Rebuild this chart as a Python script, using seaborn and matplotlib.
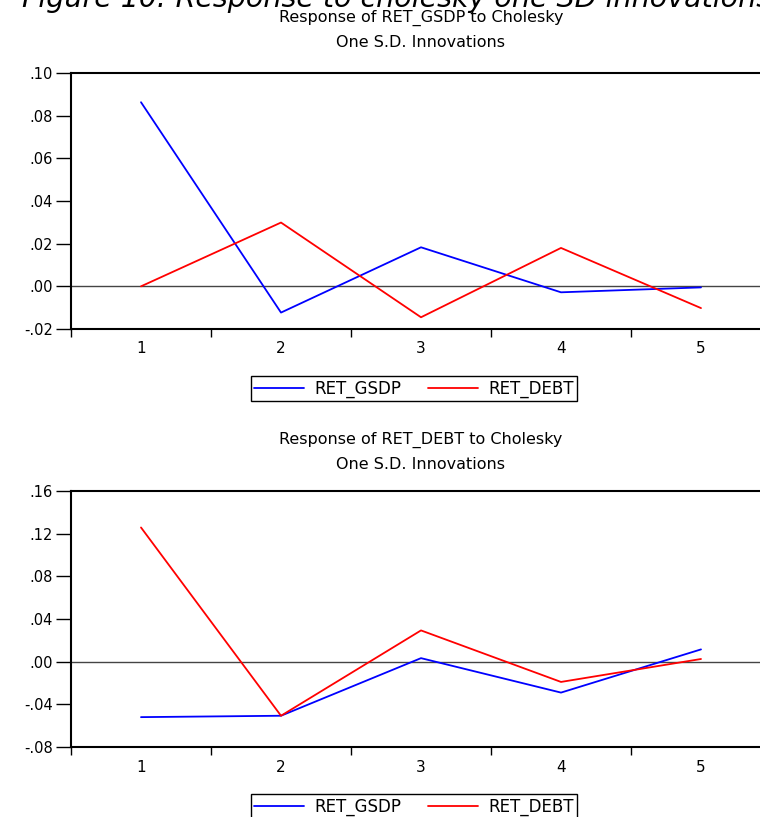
import pandas as pd
import matplotlib
matplotlib.use("Agg")
import matplotlib.pyplot as plt
import seaborn as sns
from matplotlib.ticker import FuncFormatter, FixedLocator

# impulse response values (periods 1..5)
periods = [1, 2, 3, 4, 5]
gsdp_resp_gsdp = [0.0863, -0.0123, 0.0183, -0.0028, -0.0005]
gsdp_resp_debt = [0.0000, 0.0299, -0.0145, 0.0180, -0.0102]
debt_resp_gsdp = [-0.0520, -0.0507, 0.0033, -0.0290, 0.0115]
debt_resp_debt = [0.1258, -0.0507, 0.0293, -0.0190, 0.0025]

series_names = ["RET_GSDP", "RET_DEBT"]
colors = {"RET_GSDP": "#0000ff", "RET_DEBT": "#ff0000"}

top_ticks = [-0.02, 0.00, 0.02, 0.04, 0.06, 0.08, 0.10]
bottom_ticks = [-0.08, -0.04, 0.00, 0.04, 0.08, 0.12, 0.16]

sns.set_style("white")
plt.rcParams["font.family"] = ["DejaVu Sans"]
plt.rcParams["text.color"] = "black"
plt.rcParams["xtick.color"] = "black"
plt.rcParams["ytick.color"] = "black"


def long_frame(gsdp_vals, debt_vals):
    df = pd.DataFrame({"period": periods, "RET_GSDP": gsdp_vals, "RET_DEBT": debt_vals})
    return df.melt(id_vars="period", var_name="series", value_name="value")


def dot_fmt(v, pos):
    s = f"{v:.2f}"
    return s.replace("0.", ".", 1)


def draw_panel(ax, df, ticks, title, title_pad):
    sns.lineplot(data=df, x="period", y="value", hue="series", hue_order=series_names,
                 palette=colors, linewidth=1.3, ax=ax)
    ax.axhline(0, color="#444444", linewidth=1.0, zorder=0)
    ax.set_xlim(0.5, 5.5)
    ax.set_ylim(ticks[0], ticks[-1])
    ax.yaxis.set_major_locator(FixedLocator(ticks))
    ax.yaxis.set_major_formatter(FuncFormatter(dot_fmt))
    ax.set_xticks(periods)
    ax.set_xticks([0.5, 1.5, 2.5, 3.5, 4.5, 5.5], minor=True)
    ax.tick_params(axis="x", which="major", length=0, pad=9, labelsize=11)
    ax.tick_params(axis="x", which="minor", direction="out", length=6, width=1, bottom=True)
    ax.tick_params(axis="y", direction="out", length=11, width=1, labelsize=10.5, pad=2, left=True)
    ax.set_xlabel("")
    ax.set_ylabel("")
    for side in ["top", "bottom", "left"]:
        ax.spines[side].set_color("black")
        ax.spines[side].set_linewidth(1.5)
    ax.spines["right"].set_visible(False)
    ax.set_title(title, fontsize=11.5, pad=title_pad, linespacing=1.75)
    handles, labels = ax.get_legend_handles_labels()
    leg = ax.legend(handles, labels, loc="upper center", bbox_to_anchor=(0.49, -0.184),
                    ncol=2, frameon=True, fancybox=False, edgecolor="black", framealpha=1,
                    fontsize=12, handlelength=3.0, handletextpad=0.6, columnspacing=1.6,
                    borderpad=0.2, borderaxespad=0)
    leg.get_frame().set_linewidth(1.0)


fig = plt.figure(figsize=(7.6, 8.17), dpi=100)
ax1 = fig.add_axes([71 / 760, 1 - 329 / 817, 700 / 760, 256 / 817])
ax2 = fig.add_axes([71 / 760, 1 - 747 / 817, 700 / 760, 256 / 817])

draw_panel(ax1, long_frame(gsdp_resp_gsdp, gsdp_resp_debt), top_ticks,
           "Response of RET_GSDP to Cholesky\nOne S.D. Innovations", 19)
draw_panel(ax2, long_frame(debt_resp_gsdp, debt_resp_debt), bottom_ticks,
           "Response of RET_DEBT to Cholesky\nOne S.D. Innovations", 16)

# caption sits partly above the image edge, as in the source scan
fig.text(22 / 760, 1 - 7 / 817, "Figure 10: Response to cholesky one SD innovations",
         fontsize=20.5, style="italic", ha="left", va="baseline")

fig.savefig("out.png", dpi=100)
